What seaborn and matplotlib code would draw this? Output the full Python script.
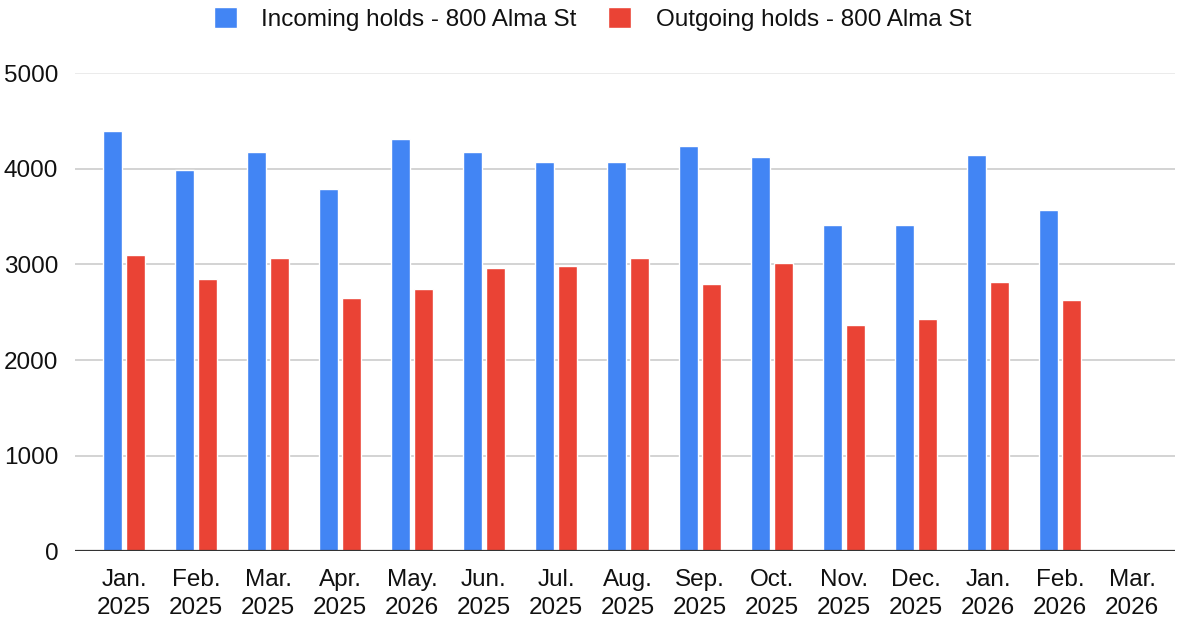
import numpy as np
import pandas as pd
import matplotlib
matplotlib.use("Agg")
import matplotlib.pyplot as plt
import seaborn as sns

months = ["Jan.\n2025", "Feb.\n2025", "Mar.\n2025", "Apr.\n2025", "May.\n2026",
          "Jun.\n2025", "Jul.\n2025", "Aug.\n2025", "Sep.\n2025", "Oct.\n2025",
          "Nov.\n2025", "Dec.\n2025", "Jan.\n2026", "Feb.\n2026", "Mar.\n2026"]
incoming = [4400, 3990, 4180, 3790, 4310, 4180, 4070, 4070, 4240, 4130,
            3410, 3410, 4150, 3570, np.nan]
outgoing = [3100, 2850, 3070, 2650, 2740, 2960, 2985, 3070, 2800, 3020,
            2370, 2430, 2820, 2630, np.nan]
series_names = ["Incoming holds - 800 Alma St", "Outgoing holds - 800 Alma St"]
colors = ["#4285F4", "#EA4335"]
yticks = [0, 1000, 2000, 3000, 4000, 5000]

df = pd.DataFrame({
    "month": months * 2,
    "value": incoming + outgoing,
    "series": [series_names[0]] * len(months) + [series_names[1]] * len(months),
})

sns.set_theme(style="white")
plt.rcParams["font.family"] = ["Liberation Sans", "DejaVu Sans"]

fig = plt.figure(figsize=(11.78, 6.22), dpi=100)
ax = fig.add_axes([0.0637, 0.114, 0.934, 0.768])

sns.barplot(data=df, x="month", y="value", hue="series", order=months,
            hue_order=series_names, palette=colors, width=0.64, gap=0.19,
            saturation=1, ax=ax, legend=True)

ax.set_ylim(0, 5000)
ax.set_xlim(-0.68, 14.6)
ax.set_yticks(yticks)
ax.set_yticklabels([str(t) for t in yticks])
ax.set_xlabel("")
ax.set_ylabel("")
for s in ax.spines.values():
    s.set_visible(False)
for t in yticks[1:]:
    ax.axhline(t, color="#cccccc" if t < 5000 else "#e8e8e8", lw=1.2, zorder=0)
ax.axhline(0, color="#333333", lw=1.6, zorder=3)
ax.tick_params(axis="both", length=0, labelsize=17.5, colors="#111111")
ax.tick_params(axis="y", pad=12)
ax.tick_params(axis="x", pad=13)
for lbl in ax.get_xticklabels():
    lbl.set_linespacing(1.35)

handles, labels = ax.get_legend_handles_labels()
ax.get_legend().remove()
fig.legend(handles, labels, loc="center", bbox_to_anchor=(0.503, 0.969), ncol=2,
           frameon=False, fontsize=17.5, handlelength=0.95, handleheight=0.95,
           handletextpad=1.0, columnspacing=1.3, labelcolor="#111111")

fig.savefig("out.png", dpi=100, facecolor="white")
